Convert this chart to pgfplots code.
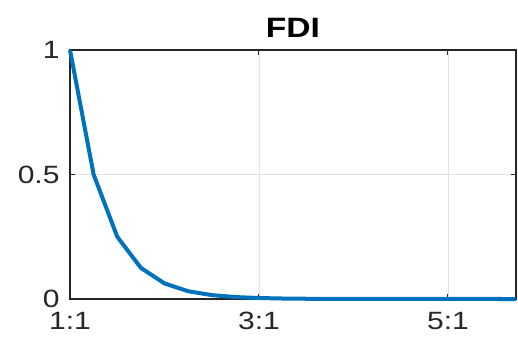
\documentclass[border=0pt]{standalone}
\usepackage{fontspec}
\setmainfont[FakeStretch=1.2]{Liberation Sans}
\usepackage{pgfplots}
\pgfplotsset{compat=1.18}
\definecolor{mblue}{rgb}{0,0.447,0.741}
\definecolor{mgray}{rgb}{0.15,0.15,0.15}
\begin{document}
\begin{tikzpicture}
\begin{axis}[
 width=446pt, height=249pt, scale only axis,
 xmin=1, xmax=5.72, ymin=0, ymax=1,
 xtick={1,3,5}, xticklabels={1:1,3:1,5:1},
 ytick={0,0.5,1}, yticklabels={0,0.5,1},
 tick align=inside, major tick length=5pt,
 grid=major, major grid style={line width=0.8pt, gray!22},
 axis line style={line width=1.3pt, mgray},
 tick style={line width=1pt, mgray},
 ticklabel style={font=\fontsize{25}{25}\selectfont, text=mgray},
 yticklabel style={xshift=-7pt},
 xticklabel style={yshift=-10pt},
 title={FDI}, title style={font=\fontsize{28}{28}\selectfont\bfseries, text=black, yshift=3pt},
 clip=false,
 ]
\addplot[mblue, line width=4pt] coordinates {
(1.00,1) (1.25,0.5) (1.50,0.25) (1.75,0.125) (2.00,0.0625) (2.25,0.03125)
(2.50,0.015625) (2.75,0.0078125) (3.00,0.00390625) (3.25,0.001953125)
(3.50,0.0009765625) (3.75,0.00048828) (4.00,0.00024414) (4.25,0.00012207)
(4.50,0.000061035) (4.75,0.000030518) (5.00,0.000015259) (5.25,0.0000076294)
(5.50,0.0000038147) (5.72,0.0000019073)
};
\coordinate (SW) at (rel axis cs:0,0);
\end{axis}
\pgfresetboundingbox
\path[use as bounding box] ([shift={(-70pt,-43pt)}]SW) rectangle ([shift={(448pt,299pt)}]SW);
\end{tikzpicture}
\end{document}
